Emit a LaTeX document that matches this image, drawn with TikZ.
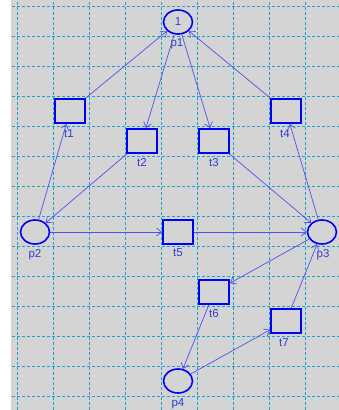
\documentclass[tikz,border=0pt]{standalone}
\usepackage{fontspec}
\setmainfont{Liberation Sans}
\usetikzlibrary{shapes.geometric,arrows.meta}
\definecolor{bg}{RGB}{212,212,212}
\definecolor{gridc}{RGB}{30,160,205}
\definecolor{nodeb}{RGB}{0,0,255}
\definecolor{arcb}{RGB}{80,80,240}
\definecolor{labb}{RGB}{50,60,210}
\begin{document}
\begin{tikzpicture}[x=1pt,y=-1pt,
  place/.style={ellipse,draw=nodeb,line width=1.6pt,minimum width=29pt,minimum height=24pt,inner sep=0pt,text=labb,font=\fontsize{11.5}{12}\selectfont},
  trans/.style={rectangle,draw=nodeb,line width=1.8pt,minimum width=30pt,minimum height=24pt,inner sep=0pt},
  lab/.style={text=labb,font=\fontsize{11.5}{12}\selectfont,inner sep=0pt},
  arc/.style={draw=arcb,line width=0.7pt,-{Straight Barb[length=5pt,width=8pt]}},
  gridl/.style={draw=gridc,line width=1pt,dash pattern=on 3pt off 2pt}]
\useasboundingbox (0,0) rectangle (339,410);
\fill[white] (0,0) rectangle (339,410);
\fill[bg] (11,0) rectangle (339,410);
% grid
\foreach \x in {17,53,89,125,161,197,233,269,305}
  \foreach \y in {2,7,...,407} \fill[gridc] (\x,\y) rectangle ({\x+1},{\y+3});
\foreach \k in {0,...,13} \draw[gridl] (12,{6.5+30*\k}) -- (339,{6.5+30*\k});
% places
\node[place] (p1) at (178,22) {1};
\node[place] (p2) at (35,232) {};
\node[place] (p3) at (322,232) {};
\node[place] (p4) at (178,381) {};
% transitions
\node[trans] (t1) at (70,111) {};
\node[trans] (t4) at (286,111) {};
\node[trans] (t2) at (142,141) {};
\node[trans] (t3) at (214,141) {};
\node[trans] (t5) at (178,232) {};
\node[trans] (t6) at (214,292) {};
\node[trans] (t7) at (286,321) {};
% labels
\node[lab] (lp1) at (177,44) {p1};
\node[lab] (lp2) at (35,255) {p2};
\node[lab] (lp3) at (323,255) {p3};
\node[lab] (lp4) at (178,404) {p4};
\node[lab] (lt1) at (69,134) {t1};
\node[lab] (lt4) at (285,134) {t4};
\node[lab] (lt2) at (142,163) {t2};
\node[lab] (lt3) at (214,163) {t3};
\node[lab] (lt5) at (178,253) {t5};
\node[lab] (lt6) at (214,314) {t6};
\node[lab] (lt7) at (284,343) {t7};
% arcs
\draw[arc] (t1) -- (p1);
\draw[arc] (t4) -- (p1);
\draw[arc] (p1) -- (t2);
\draw[arc] (p1) -- (t3);
\draw[arc] (p2) -- (t1);
\draw[arc] (t2) -- (p2);
\draw[arc] (t3) -- (p3);
\draw[arc] (p3) -- (t4);
\draw[arc] (p2) -- (t5);
\draw[arc] (t5) -- (p3);
\draw[arc] (p3) -- (t6);
\draw[arc] (t7) -- (p3);
\draw[arc] (t6) -- (p4);
\draw[arc] (p4) -- (t7);
\end{tikzpicture}
\end{document}
